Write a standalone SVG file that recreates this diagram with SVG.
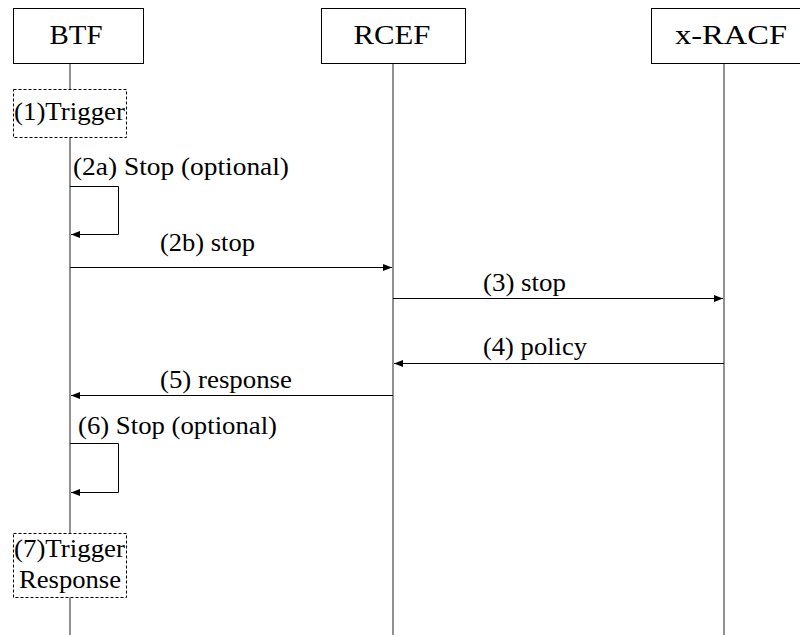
<svg xmlns="http://www.w3.org/2000/svg" width="800" height="635" viewBox="0 0 800 635">
<defs>
<marker id="ah" markerWidth="10" markerHeight="8" refX="9" refY="4" orient="auto" markerUnits="userSpaceOnUse">
<path d="M0,0.5 L9,4 L0,7.5 Z" fill="#000"/>
</marker>
<style>
.box{fill:#fff;stroke:#000;stroke-width:1}
.dbox{fill:#fff;stroke:#000;stroke-width:1;stroke-dasharray:3,2}
.life{stroke:#555;stroke-width:1.3;fill:none}
.msg{stroke:#000;stroke-width:1;fill:none;marker-end:url(#ah)}
text{font-family:'Liberation Serif','Times New Roman',Tinos,'Noto Serif','DejaVu Serif',FreeSerif,serif;fill:#000}
.hd{font-size:28px;text-anchor:middle}
.lb{font-size:25px}
</style>
</defs>
<rect width="800" height="635" fill="#fff"/>
<g id="lifelines">
<line class="life" x1="70" y1="63" x2="70" y2="635"/>
<line class="life" x1="393" y1="63" x2="393" y2="635" stroke="#333"/>
<line class="life" x1="724" y1="63" x2="724" y2="635" stroke="#333"/>
</g>
<g id="BTF">
<rect class="box" x="13.5" y="8.5" width="130" height="55"/>
<text class="hd" x="76" y="44" textLength="53" lengthAdjust="spacingAndGlyphs">BTF</text>
</g>
<g id="RCEF">
<rect class="box" x="321.5" y="8.5" width="144" height="55"/>
<text class="hd" x="392" y="44" textLength="77" lengthAdjust="spacingAndGlyphs">RCEF</text>
</g>
<g id="xRACF">
<rect class="box" x="651.5" y="8.5" width="160" height="55"/>
<text class="hd" x="731" y="44" textLength="112" lengthAdjust="spacingAndGlyphs">x-RACF</text>
</g>
<g id="trigger1">
<rect class="dbox" x="13.5" y="89.5" width="113" height="48"/>
<text class="lb" x="14" y="120" textLength="111" lengthAdjust="spacingAndGlyphs">(1)Trigger</text>
</g>
<g id="trigger7">
<rect class="dbox" x="13.5" y="533.5" width="113" height="64"/>
<text class="lb" x="14" y="557" textLength="111" lengthAdjust="spacingAndGlyphs">(7)Trigger</text>
<text class="lb" x="70" y="588" text-anchor="middle" textLength="102" lengthAdjust="spacingAndGlyphs">Response</text>
</g>
<g id="connectors">
<path class="msg" d="M70,186.5 H118.5 V234.5 H71"/>
<line class="msg" x1="70" y1="267.5" x2="392" y2="267.5"/>
<line class="msg" x1="393" y1="298.5" x2="723" y2="298.5"/>
<line class="msg" x1="724" y1="363.5" x2="394" y2="363.5"/>
<line class="msg" x1="393" y1="395.5" x2="71" y2="395.5"/>
<path class="msg" d="M70,443.5 H118.5 V492.5 H71"/>
</g>
<g id="labels">
<text class="lb" x="73" y="175" textLength="216" lengthAdjust="spacingAndGlyphs">(2a) Stop (optional)</text>
<text class="lb" x="160" y="251" textLength="95" lengthAdjust="spacingAndGlyphs">(2b) stop</text>
<text class="lb" x="483" y="291" textLength="83" lengthAdjust="spacingAndGlyphs">(3) stop</text>
<text class="lb" x="483" y="355" textLength="104" lengthAdjust="spacingAndGlyphs">(4) policy</text>
<text class="lb" x="160" y="388" textLength="132" lengthAdjust="spacingAndGlyphs">(5) response</text>
<text class="lb" x="78" y="434" textLength="199" lengthAdjust="spacingAndGlyphs">(6) Stop (optional)</text>
</g>
</svg>
